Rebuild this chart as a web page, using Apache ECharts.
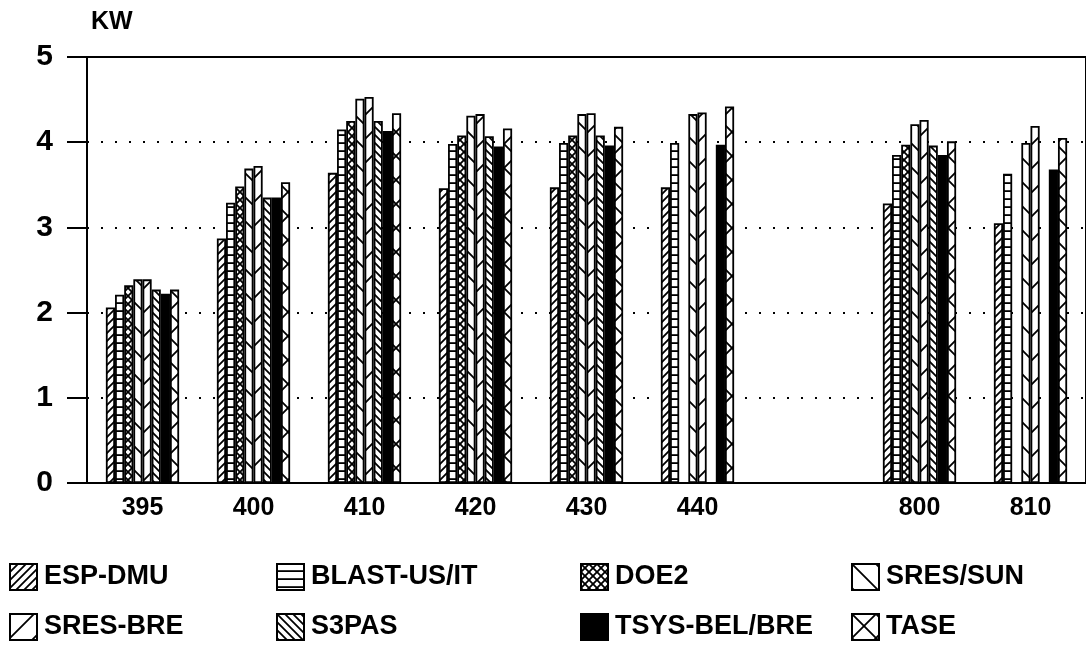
<!DOCTYPE html>
<html><head><meta charset="utf-8">
<script src="https://cdn.jsdelivr.net/npm/echarts@6/dist/echarts.min.js"></script>
<style>html,body{margin:0;padding:0;background:#fff}#c{width:1086px;height:652px}</style>
</head><body><div id="c"></div>
<script>
// ---- data ----
const categories = ['395', '400', '410', '420', '430', '440', '', '800', '810'];
const seriesNames = ['ESP-DMU', 'BLAST-US/IT', 'DOE2', 'SRES/SUN', 'SRES-BRE', 'S3PAS', 'TSYS-BEL/BRE', 'TASE'];
const espDmu     = [2.06, 2.87, 3.64, 3.46, 3.47, 3.47, null, 3.28, 3.05];
const blastUsIt  = [2.21, 3.29, 4.15, 3.98, 3.99, 3.99, null, 3.85, 3.63];
const doe2       = [2.32, 3.48, 4.25, 4.08, 4.08, null, null, 3.97, null];
const sresSun    = [2.39, 3.69, 4.51, 4.31, 4.33, 4.33, null, 4.21, 3.99];
const sresBre    = [2.39, 3.72, 4.53, 4.33, 4.34, 4.35, null, 4.26, 4.19];
const s3pas      = [2.27, 3.35, 4.25, 4.07, 4.08, null, null, 3.96, null];
const tsysBelBre = [2.22, 3.35, 4.13, 3.95, 3.96, 3.97, null, 3.85, 3.68];
const tase       = [2.27, 3.53, 4.34, 4.16, 4.18, 4.42, null, 4.01, 4.05];
const yTicks = [0, 1, 2, 3, 4, 5];
const seriesData = [espDmu, blastUsIt, doe2, sresSun, sresBre, s3pas, tsysBelBre, tase];
const patternKinds = ['fwdDense', 'horiz', 'cross', 'backSparse', 'fwdSparse', 'backDense', 'solid', 'xSparse'];

// ---- patterns ----
function makePattern(kind) {
  if (kind === 'solid') return '#000';
  const c = document.createElement('canvas');
  let s = 8;
  if (kind === 'backSparse' || kind === 'fwdSparse' || kind === 'xSparse') s = 24;
  c.width = s; c.height = s;
  const g = c.getContext('2d');
  g.fillStyle = '#fff'; g.fillRect(0, 0, s, s);
  g.strokeStyle = '#000'; g.lineWidth = 1.8; g.lineCap = 'square';
  function fwd() {
    g.beginPath();
    g.moveTo(0, s); g.lineTo(s, 0);
    g.moveTo(-2, 2); g.lineTo(2, -2);
    g.moveTo(s - 2, s + 2); g.lineTo(s + 2, s - 2);
    g.stroke();
  }
  function back() {
    g.beginPath();
    g.moveTo(0, 0); g.lineTo(s, s);
    g.moveTo(s - 2, -2); g.lineTo(s + 2, 2);
    g.moveTo(-2, s - 2); g.lineTo(2, s + 2);
    g.stroke();
  }
  if (kind === 'fwdDense' || kind === 'fwdSparse') fwd();
  else if (kind === 'backDense' || kind === 'backSparse') back();
  else if (kind === 'cross' || kind === 'xSparse') { fwd(); back(); }
  else if (kind === 'horiz') {
    g.beginPath(); g.moveTo(0, s - 0.9); g.lineTo(s, s - 0.9); g.stroke();
  }
  return { image: c, repeat: 'repeat' };
}

const FONT = '"Liberation Sans", Arial, sans-serif';
const chart = echarts.init(document.getElementById('c'), null, { renderer: 'canvas' });

const legendLefts = [9, 276, 580, 851];
const legendTops = [563, 613];
const legends = seriesNames.map((n, i) => ({
  data: [n],
  left: legendLefts[i % 4],
  top: legendTops[Math.floor(i / 4)],
  icon: 'rect',
  itemWidth: 27,
  itemHeight: 26,
  padding: 0,
  textStyle: { fontSize: 27, fontWeight: 'bold', color: '#000', fontFamily: FONT, padding: [0, 0, 0, 2] },
  selectedMode: false
}));

const series = seriesNames.map((n, i) => ({
  name: n,
  type: 'bar',
  data: seriesData[i],
  barGap: '0%',
  barCategoryGap: '34%',
  itemStyle: { color: makePattern(patternKinds[i]), borderColor: '#000', borderWidth: 1.8 },
  emphasis: { disabled: true },
  animation: false
}));

chart.setOption({
  backgroundColor: '#fff',
  animation: false,
  title: {
    text: 'KW', left: 86, top: 5,
    textStyle: { fontSize: 25, fontWeight: 'bold', color: '#000', fontFamily: FONT }
  },
  grid: { left: 87, right: -2, top: 57, bottom: 169, show: true, borderColor: '#000', borderWidth: 2, backgroundColor: 'transparent' },
  legend: legends,
  xAxis: {
    type: 'category',
    data: categories,
    axisLine: { lineStyle: { color: '#000', width: 2 } },
    axisTick: { alignWithLabel: true, interval: 0, length: 7, lineStyle: { color: '#000', width: 1.5 } },
    axisLabel: { interval: 0, margin: 13, fontSize: 25, fontWeight: 'bold', color: '#000', fontFamily: FONT }
  },
  yAxis: {
    type: 'value',
    min: yTicks[0], max: yTicks[yTicks.length - 1], interval: 1,
    axisLine: { show: true, lineStyle: { color: '#000', width: 2 } },
    axisTick: { show: true, length: 20, lineStyle: { color: '#000', width: 2 } },
    axisLabel: { margin: 34, fontSize: 30, fontWeight: 'bold', color: '#000', fontFamily: FONT },
    splitLine: { show: true, lineStyle: { color: '#000', width: 2, type: [2, 12] } }
  },
  series: series
});
</script>
</body></html>
